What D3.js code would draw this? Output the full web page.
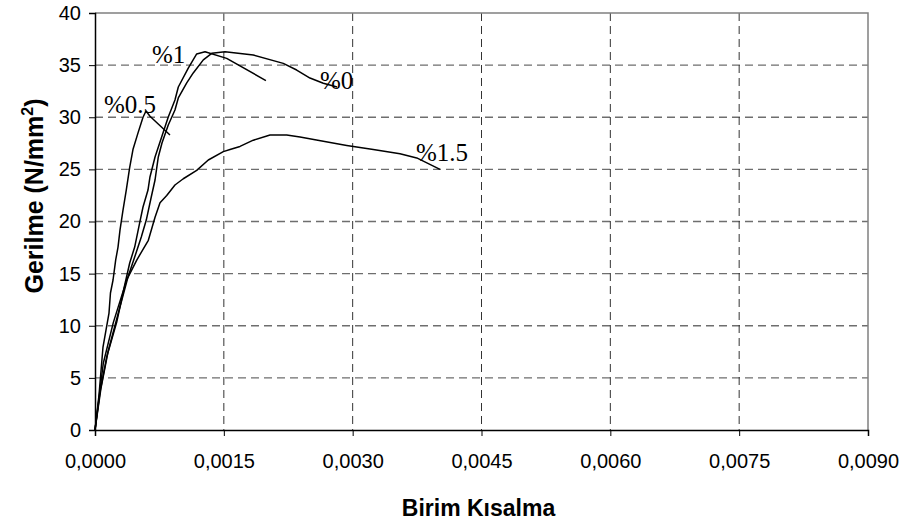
<!DOCTYPE html>
<html>
<head>
<meta charset="utf-8">
<script src="https://cdn.jsdelivr.net/npm/d3@7/dist/d3.min.js"></script>
<style>
  html, body { margin: 0; padding: 0; background: #fff; }
  svg { display: block; }
</style>
</head>
<body>
<svg id="chart" width="915" height="529"></svg>
<script>
// Stress–strain curves (Birim Kısalma vs Gerilme, N/mm²)
const strain0 = [0, 0.0000699, 0.000151, 0.000256, 0.000384, 0.000462, 0.000539, 0.000597, 0.000655, 0.000699, 0.000737, 0.00078, 0.000853, 0.000931, 0.00097, 0.001068, 0.001144, 0.001261, 0.001359, 0.001514, 0.001843, 0.002192, 0.002348, 0.002503, 0.002658, 0.002818];
const stress0 = [0, 4.03, 7.48, 10.74, 14.68, 16.59, 18.51, 20.14, 22.35, 23.98, 26.19, 27.53, 29.26, 30.7, 31.85, 33.29, 34.25, 35.5, 36.13, 36.29, 35.97, 35.17, 34.53, 33.76, 33.26, 32.9];

const strain05 = [0, 0.0000466, 0.0000931, 0.000128, 0.000163, 0.00018, 0.00021, 0.000241, 0.000268, 0.000291, 0.000326, 0.000364, 0.000404, 0.000442, 0.000501, 0.000559, 0.000594, 0.00064, 0.000873];
const stress05 = [0, 3.36, 7.96, 9.59, 11.22, 13.14, 14.39, 16.31, 17.55, 19.18, 21.1, 23.0, 25.2, 26.9, 28.5, 30.0, 30.6, 30.1, 28.3];

const strain1 = [0, 0.0000582, 0.000136, 0.000253, 0.000346, 0.000404, 0.000462, 0.00052, 0.000559, 0.000617, 0.00064, 0.000699, 0.00078, 0.000853, 0.000931, 0.00097, 0.001086, 0.001184, 0.001281, 0.001533, 0.00199];
const stress1 = [0, 3.64, 7.0, 10.36, 13.91, 16.02, 17.55, 19.86, 21.39, 23.02, 24.27, 26.19, 28.2, 30.02, 31.65, 32.9, 34.72, 36.07, 36.29, 35.65, 33.52];

const strain15 = [0, 0.0000966, 0.000213, 0.000369, 0.000486, 0.000621, 0.000699, 0.000757, 0.000835, 0.000931, 0.001028, 0.001184, 0.001319, 0.001494, 0.001572, 0.001688, 0.001843, 0.002038, 0.002232, 0.002387, 0.002658, 0.002931, 0.00324, 0.003551, 0.003746, 0.004017];
const stress15 = [0, 6.4, 10.3, 14.4, 16.3, 18.2, 20.4, 21.8, 22.5, 23.5, 24.1, 24.9, 25.9, 26.7, 26.9, 27.2, 27.8, 28.3, 28.3, 28.1, 27.7, 27.3, 26.9, 26.5, 26.1, 25.0];

// Curve labels and where each one sits (strain, stress)
const seriesNames = ["%0", "%0.5", "%1", "%1.5"];
const labelStrain = [0.00262, 0.000105, 0.000664, 0.003737];
const labelStress = [32.7, 30.4, 35.2, 25.8];

// Axis ticks
const xTicks = [0, 0.0015, 0.003, 0.0045, 0.006, 0.0075, 0.009];
const yTicks = [0, 5, 10, 15, 20, 25, 30, 35, 40];

const series = [
  { name: seriesNames[0], x: strain0, y: stress0 },
  { name: seriesNames[1], x: strain05, y: stress05 },
  { name: seriesNames[2], x: strain1, y: stress1 },
  { name: seriesNames[3], x: strain15, y: stress15 }
];

const svg = d3.select("#chart");
const plot = { left: 95, right: 868, top: 13, bottom: 430 };

const x = d3.scaleLinear().domain([0, 0.009]).range([plot.left, plot.right]);
const y = d3.scaleLinear().domain([0, 40]).range([plot.bottom, plot.top]);

svg.append("rect").attr("width", 915).attr("height", 529).attr("fill", "#fff");

// Dashed gridlines
const grid = svg.append("g");
grid.selectAll("line.h").data(yTicks.filter(d => d > 0 && d < 40)).join("line")
  .attr("x1", plot.left).attr("x2", plot.right)
  .attr("y1", d => y(d)).attr("y2", d => y(d))
  .attr("stroke", "#6e6e6e").attr("stroke-width", 1.3)
  .attr("stroke-dasharray", "8,5");
grid.selectAll("line.v").data(xTicks.filter(d => d > 0 && d < 0.009)).join("line")
  .attr("x1", d => x(d)).attr("x2", d => x(d))
  .attr("y1", plot.top).attr("y2", plot.bottom)
  .attr("stroke", "#333").attr("stroke-width", 1)
  .attr("stroke-dasharray", "8,5");

// Plot frame: top and right in grey
svg.append("path")
  .attr("d", `M${plot.left},${plot.top}H${plot.right}V${plot.bottom}`)
  .attr("fill", "none").attr("stroke", "#808080").attr("stroke-width", 1.5);

const fmtX = v => d3.format(".4f")(v).replace(".", ",");

const xAxis = svg.append("g")
  .attr("transform", `translate(0,${plot.bottom})`)
  .call(d3.axisBottom(x).tickValues(xTicks).tickFormat(fmtX).tickSizeOuter(0).tickSize(6).tickPadding(18));
const yAxis = svg.append("g")
  .attr("transform", `translate(${plot.left},0)`)
  .call(d3.axisLeft(y).tickValues(yTicks).tickSizeOuter(0).tickSize(6).tickPadding(8));

[xAxis, yAxis].forEach(g => {
  g.select(".domain").attr("stroke", "#000").attr("stroke-width", 1.5);
  g.selectAll(".tick line").attr("stroke", "#000").attr("stroke-width", 1);
  g.selectAll(".tick text")
    .attr("fill", "#000")
    .style("font-family", "'Liberation Sans', Arial, sans-serif")
    .style("font-size", "20px");
});

// Curves
const line = d3.line().x(d => x(d[0])).y(d => y(d[1]));
svg.append("g").selectAll("path").data(series).join("path")
  .attr("d", s => line(s.x.map((v, i) => [v, s.y[i]])))
  .attr("fill", "none").attr("stroke", "#000").attr("stroke-width", 1.5)
  .attr("stroke-linejoin", "round");

// Curve labels
svg.append("g").selectAll("text").data(seriesNames).join("text")
  .attr("x", (d, i) => x(labelStrain[i]))
  .attr("y", (d, i) => y(labelStress[i]))
  .style("font-family", "'Liberation Serif', 'Times New Roman', serif")
  .style("font-size", "25px")
  .attr("fill", "#000")
  .text(d => d);

// Axis titles
svg.append("text")
  .attr("x", (plot.left + plot.right) / 2 - 3)
  .attr("y", 516)
  .attr("text-anchor", "middle")
  .style("font-family", "'Liberation Sans', Arial, sans-serif")
  .style("font-size", "23px").style("font-weight", "bold")
  .text("Birim Kısalma");

const yTitle = svg.append("text")
  .attr("transform", "translate(43,196) rotate(-90)")
  .attr("text-anchor", "middle")
  .style("font-family", "'Liberation Sans', Arial, sans-serif")
  .style("font-size", "25px").style("font-weight", "bold");
yTitle.append("tspan").text("Gerilme (N/mm");
yTitle.append("tspan").attr("dy", -10).style("font-size", "16px").text("2");
yTitle.append("tspan").attr("dy", 10).text(")");
</script>
</body>
</html>
